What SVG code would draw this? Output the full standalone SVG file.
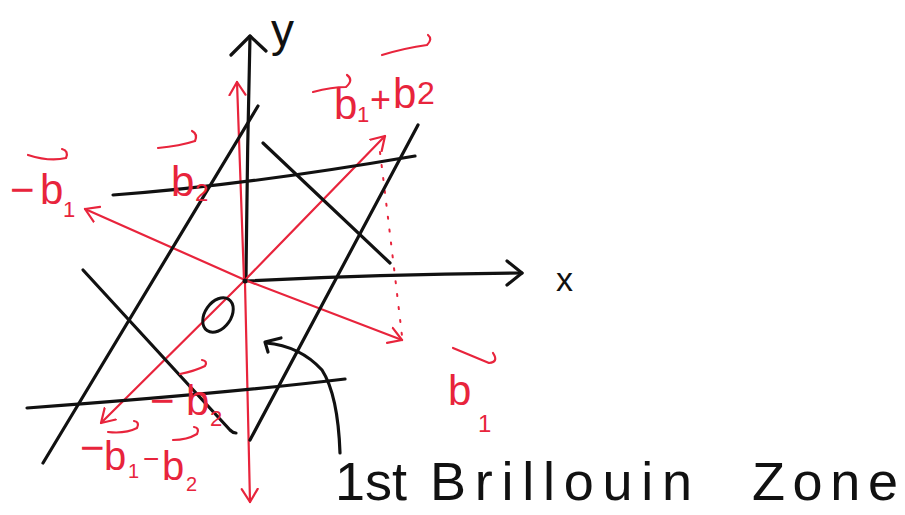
<svg xmlns="http://www.w3.org/2000/svg" width="905" height="515" viewBox="0 0 905 515">
<style>
.bk{fill:none;stroke:#111;stroke-width:3.2;stroke-linecap:round;stroke-linejoin:round}
.rd{fill:none;stroke:#e8243c;stroke-width:2.2;stroke-linecap:round;stroke-linejoin:round}
.dot{fill:none;stroke:#e8243c;stroke-width:2;stroke-dasharray:2 11;stroke-linecap:round}
.lbl{font-family:"Liberation Sans","DejaVu Sans",sans-serif;fill:#e8243c;font-size:42px}
.blk{font-family:"Liberation Sans","DejaVu Sans",sans-serif;fill:#111}
</style>
<defs>
<marker id="ar" viewBox="-14 -10 16 20" markerWidth="16" markerHeight="20" refX="0" refY="0" orient="auto" markerUnits="userSpaceOnUse">
<path d="M-13,-8 L0,0 L-13,8" fill="none" stroke="#e8243c" stroke-width="2.2" stroke-linecap="round" stroke-linejoin="round"/>
</marker>
</defs>
<rect width="905" height="515" fill="#fff"/>
<g id="connectors">
<path id="y-axis" class="bk" d="M246,281 Q247,160 250,36"/>
<path class="bk" d="M231,55 L250,36 L266,51"/>
<path id="x-axis" class="bk" d="M246,281 Q380,274 522,273"/>
<path class="bk" d="M507,261 L522,273 L507,285"/>
<path id="b2" class="rd" d="M244,280 L237,82" marker-end="url(#ar)"/>
<path id="mb2" class="rd" d="M245,283 L250,502" marker-end="url(#ar)"/>
<path id="b1" class="rd" d="M245,280 L402,340" marker-end="url(#ar)"/>
<path id="mb1" class="rd" d="M245,280 L85,209" marker-end="url(#ar)"/>
<path id="b1b2" class="rd" d="M245,280 L385,136" marker-end="url(#ar)"/>
<path id="mb1mb2" class="rd" d="M245,280 L101,423" marker-end="url(#ar)"/>
<path class="dot" d="M380,152 Q392,250 402,336"/>
<path class="bk" d="M258,106 L43,463"/>
<path class="bk" d="M418,125 L250,440"/>
<path class="bk" d="M113,195 Q240,186 415,156"/>
<path class="bk" d="M27,408 Q220,394 345,379"/>
<path class="bk" d="M263,143 L390,263"/>
<path class="bk" d="M83,270 L230,430 Q233,433 236,433"/>
<path class="bk" d="M340,453 Q338,395 322,370 Q300,346 266,343"/>
<path class="bk" d="M281,338 L265,342 L268,352"/>
</g>
<g id="origin">
<circle cx="245" cy="281" r="2.5" fill="#111"/>
<ellipse cx="218" cy="315" rx="13" ry="19" transform="rotate(35 218 315)" fill="none" stroke="#111" stroke-width="3"/>
</g>
<g id="axis-labels">
<text class="blk" x="271" y="46" font-size="46">y</text>
<text class="blk" x="556" y="291" font-size="34">x</text>
</g>
<g id="label-mb1">
<path class="rd" d="M28,155 Q50,162 66,158 Q69,151 62,149"/>
<text class="lbl" x="10" y="204">−<tspan x="40">b</tspan><tspan x="63" y="217" font-size="22">1</tspan></text>
</g>
<g id="label-b2">
<path class="rd" d="M158,148 Q180,146 195,141 Q198,134 192,131"/>
<text class="lbl" x="171" y="196">b<tspan x="195" y="201" font-size="24">2</tspan></text>
</g>
<g id="label-b1b2">
<path class="rd" d="M313,92 Q332,87 346,87 Q354,80 347,75"/>
<path class="rd" d="M382,55 Q405,48 427,45 Q433,39 428,35"/>
<text class="lbl" x="334" y="119">b<tspan x="357" y="122" font-size="22">1</tspan><tspan x="370" y="112" font-size="36">+</tspan><tspan x="393" y="108">b</tspan><tspan x="417" y="104" font-size="32">2</tspan></text>
</g>
<g id="label-b1">
<path class="rd" d="M453,348 L489,363 Q499,362 493,353"/>
<text class="lbl" x="448" y="405">b<tspan x="478" y="432" font-size="24">1</tspan></text>
</g>
<g id="label-mb2">
<path class="rd" d="M180,374 Q195,371 205,366 Q208,361 202,360"/>
<text class="lbl" x="150" y="415">−<tspan x="186">b</tspan><tspan x="210" y="426" font-size="22">2</tspan></text>
</g>
<g id="label-mb1mb2">
<path class="rd" d="M108,432 Q125,434 137,428 Q140,422 134,421"/>
<path class="rd" d="M173,440 Q187,440 197,434 Q200,428 194,427"/>
<text class="lbl" x="80" y="462" font-size="28">−<tspan x="104" y="470" font-size="40">b</tspan><tspan x="128" y="478" font-size="20">1</tspan><tspan x="143" y="468" font-size="28">−</tspan><tspan x="162" y="480" font-size="40">b</tspan><tspan x="186" y="491" font-size="20">2</tspan></text>
</g>
<g id="zone-label">
<text class="blk" x="335" y="500" font-size="54">1st<tspan x="430" textLength="262" lengthAdjust="spacing">Brillouin</tspan><tspan x="752" textLength="146" lengthAdjust="spacing">Zone</tspan></text>
</g>
</svg>
